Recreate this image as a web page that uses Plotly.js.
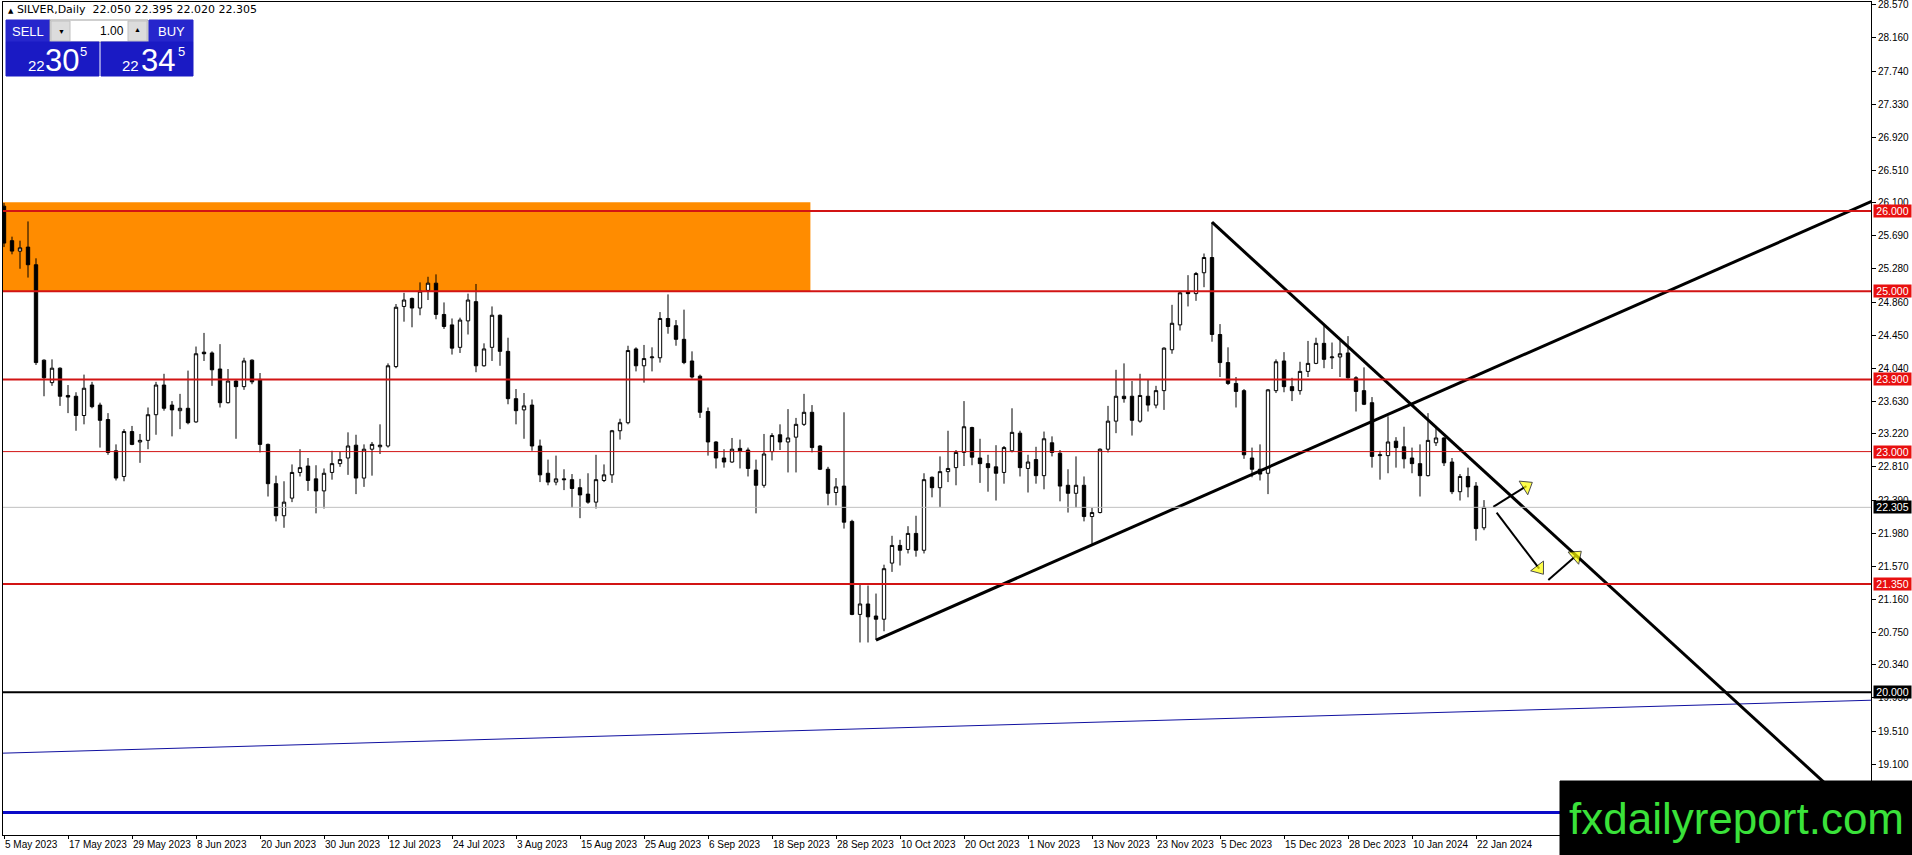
<!DOCTYPE html>
<html>
<head>
<meta charset="utf-8">
<script src="https://cdn.plot.ly/plotly-3.0.1.min.js"></script>
<style>
html, body { margin: 0; padding: 0; background: #fff; }
#chart { width: 1912px; height: 855px; }
</style>
</head>
<body>
<div id="chart"></div>
<script>
// bottom time scale, one label every 8 bars
var dateLabels = ['5 May 2023', '17 May 2023', '29 May 2023', '8 Jun 2023', '20 Jun 2023', '30 Jun 2023',
  '12 Jul 2023', '24 Jul 2023', '3 Aug 2023', '15 Aug 2023', '25 Aug 2023', '6 Sep 2023', '18 Sep 2023',
  '28 Sep 2023', '10 Oct 2023', '20 Oct 2023', '1 Nov 2023', '13 Nov 2023', '23 Nov 2023', '5 Dec 2023',
  '15 Dec 2023', '28 Dec 2023', '10 Jan 2024', '22 Jan 2024'];

// daily bars (bar 0 = 5 May 2023, last = 23 Jan 2024)
var openP = [26.06, 25.63, 25.50, 25.55, 25.33, 24.14, 23.86, 24.04, 23.70, 23.69,
  23.45, 23.83, 23.58, 23.40, 23.01, 22.69, 23.25, 23.12, 23.14, 23.46,
  23.83, 23.58, 23.51, 23.54, 23.37, 24.24, 24.23, 24.03, 23.61, 23.88,
  23.81, 24.14, 23.90, 23.09, 22.60, 22.20, 22.42, 22.74, 22.82, 22.66,
  22.51, 22.74, 22.85, 22.92, 23.08, 22.67, 23.03, 23.06, 23.07, 24.06,
  24.81, 24.91, 24.79, 25.01, 25.10, 24.71, 24.58, 24.30, 24.63, 24.87,
  24.07, 24.30, 24.70, 24.25, 23.66, 23.52, 23.58, 23.07, 22.73, 22.62,
  22.66, 22.65, 22.55, 22.47, 22.37, 22.64, 22.71, 23.26, 23.36, 24.28,
  24.07, 24.17, 24.17, 24.66, 24.57, 24.40, 24.13, 23.94, 23.50, 23.12,
  22.92, 22.87, 23.04, 23.02, 22.77, 22.58, 23.00, 23.21, 23.12, 23.18,
  23.34, 23.49, 23.07, 22.78, 22.49, 22.57, 22.13, 20.97, 21.10, 20.95,
  20.91, 21.61, 21.83, 21.78, 21.98, 21.77, 22.68, 22.55, 22.75, 22.80,
  22.99, 23.30, 22.92, 22.85, 22.81, 22.74, 23.01, 23.23, 22.79, 22.90,
  22.70, 23.11, 22.98, 22.58, 22.48, 22.58, 22.19, 22.24, 23.03, 23.38,
  23.69, 23.69, 23.38, 23.69, 23.58, 23.76, 24.27, 24.58, 24.99, 24.97,
  25.23, 25.42, 24.46, 24.11, 23.85, 23.76, 22.92, 22.78, 22.73, 23.76,
  24.13, 23.81, 23.76, 24.00, 24.10, 24.35, 24.17, 24.18, 24.23, 23.92,
  23.76, 23.61, 22.95, 22.95, 23.13, 23.06, 22.92, 22.85, 22.70, 23.11,
  23.17, 22.87, 22.50, 22.69, 22.57, 22.050];
var highP = [26.10, 25.68, 25.63, 25.87, 25.41, 24.15, 24.15, 24.05, 23.83, 23.74,
  23.96, 23.87, 23.61, 23.48, 23.09, 23.28, 23.32, 23.22, 23.55, 23.87,
  23.97, 23.63, 23.72, 24.01, 24.31, 24.48, 24.25, 24.34, 24.03, 23.89,
  24.17, 24.15, 23.98, 23.10, 22.70, 22.63, 22.84, 23.03, 22.92, 22.83,
  22.79, 23.01, 23.00, 23.24, 23.21, 23.09, 23.12, 23.34, 24.10, 24.84,
  24.98, 24.92, 25.11, 25.18, 25.21, 24.86, 24.66, 24.67, 24.97, 25.09,
  24.35, 24.81, 24.71, 24.42, 23.78, 23.73, 23.65, 23.15, 22.90, 22.95,
  22.78, 22.72, 22.66, 22.73, 22.96, 22.84, 23.27, 23.41, 24.32, 24.30,
  24.33, 24.30, 24.74, 24.96, 24.64, 24.77, 24.25, 23.96, 23.55, 23.13,
  23.03, 23.17, 23.15, 23.05, 22.90, 23.22, 23.23, 23.34, 23.53, 23.42,
  23.72, 23.58, 23.08, 22.81, 22.67, 23.49, 22.15, 21.34, 21.33, 21.23,
  21.59, 21.95, 21.90, 22.07, 22.20, 22.73, 22.69, 22.94, 23.26, 23.02,
  23.63, 23.31, 23.16, 22.96, 23.08, 23.07, 23.54, 23.26, 22.96, 23.06,
  23.25, 23.19, 23.02, 22.78, 22.94, 22.69, 22.30, 23.04, 23.57, 24.02,
  24.10, 23.88, 23.97, 23.90, 23.82, 24.30, 24.83, 25.00, 25.20, 25.24,
  25.47, 25.86, 24.59, 24.30, 23.93, 23.78, 23.05, 23.09, 23.78, 24.15,
  24.24, 23.92, 24.12, 24.38, 24.42, 24.57, 24.36, 24.38, 24.44, 23.94,
  24.05, 23.68, 23.01, 23.44, 23.18, 23.31, 23.05, 23.09, 23.48, 23.30,
  23.18, 22.92, 22.72, 22.80, 22.62, 22.395];
var lowP = [25.55, 25.46, 25.28, 25.17, 24.08, 23.69, 23.82, 23.57, 23.48, 23.26,
  23.34, 23.54, 23.05, 22.96, 22.64, 22.63, 23.08, 22.86, 23.03, 23.21,
  23.51, 23.19, 23.28, 23.34, 23.36, 24.13, 23.82, 23.55, 23.60, 23.16,
  23.77, 23.84, 22.99, 22.44, 22.13, 22.05, 22.37, 22.69, 22.51, 22.23,
  22.29, 22.65, 22.81, 22.71, 22.47, 22.56, 22.70, 22.97, 23.05, 24.04,
  24.62, 24.55, 24.70, 24.89, 24.65, 24.53, 24.21, 24.23, 24.46, 23.99,
  24.06, 24.13, 24.07, 23.59, 23.34, 23.16, 23.01, 22.62, 22.58, 22.58,
  22.52, 22.30, 22.17, 22.35, 22.29, 22.62, 22.61, 23.15, 23.34, 24.00,
  23.86, 24.00, 24.11, 24.47, 24.32, 24.09, 23.91, 23.42, 22.95, 22.79,
  22.80, 22.86, 22.79, 22.69, 22.23, 22.55, 22.89, 23.02, 22.74, 22.74,
  23.32, 22.99, 22.77, 22.33, 22.33, 22.04, 20.96, 20.62, 20.62, 20.65,
  20.76, 21.50, 21.58, 21.73, 21.69, 21.73, 22.43, 22.31, 22.62, 22.58,
  22.82, 22.83, 22.61, 22.50, 22.39, 22.60, 22.99, 22.69, 22.49, 22.60,
  22.53, 22.94, 22.38, 22.24, 22.30, 22.13, 21.85, 22.23, 22.99, 23.23,
  23.61, 23.20, 23.36, 23.50, 23.54, 23.52, 24.22, 24.51, 24.81, 24.88,
  25.05, 24.37, 23.93, 23.83, 23.55, 22.91, 22.68, 22.64, 22.47, 23.73,
  23.74, 23.63, 23.71, 23.93, 24.09, 24.04, 24.03, 23.93, 23.91, 23.50,
  23.58, 22.80, 22.65, 22.73, 22.80, 22.79, 22.73, 22.44, 22.69, 23.07,
  22.82, 22.47, 22.39, 22.43, 21.89, 22.020];
var closeP = [25.60, 25.50, 25.54, 25.33, 24.11, 23.92, 24.04, 23.69, 23.68, 23.45,
  23.79, 23.56, 23.39, 22.99, 22.67, 23.25, 23.09, 23.14, 23.46, 23.83,
  23.54, 23.52, 23.54, 23.36, 24.22, 24.22, 24.02, 23.61, 23.88, 23.81,
  24.13, 23.87, 23.09, 22.60, 22.20, 22.37, 22.74, 22.80, 22.64, 22.51,
  22.73, 22.85, 22.90, 23.07, 22.67, 23.03, 23.09, 23.08, 24.07, 24.80,
  24.89, 24.79, 25.00, 25.10, 24.71, 24.56, 24.29, 24.64, 24.89, 24.07,
  24.28, 24.70, 24.25, 23.66, 23.51, 23.57, 23.07, 22.71, 22.62, 22.66,
  22.65, 22.54, 22.46, 22.37, 22.65, 22.71, 23.26, 23.36, 24.26, 24.07,
  24.16, 24.18, 24.66, 24.56, 24.40, 24.11, 23.93, 23.49, 23.12, 22.92,
  22.87, 23.03, 23.01, 22.79, 22.58, 22.97, 23.20, 23.12, 23.17, 23.34,
  23.49, 23.05, 22.78, 22.48, 22.56, 22.12, 20.97, 21.10, 20.94, 20.91,
  21.54, 21.83, 21.77, 21.98, 21.77, 22.65, 22.55, 22.75, 22.79, 22.99,
  23.31, 22.93, 22.85, 22.80, 22.73, 23.05, 23.24, 22.80, 22.87, 22.70,
  23.16, 22.99, 22.57, 22.48, 22.58, 22.19, 22.24, 23.03, 23.38, 23.69,
  23.66, 23.39, 23.70, 23.58, 23.76, 24.29, 24.60, 24.98, 24.97, 25.22,
  25.42, 24.46, 24.11, 23.85, 23.75, 22.96, 22.78, 22.72, 23.77, 24.12,
  23.81, 23.76, 24.00, 24.10, 24.35, 24.15, 24.18, 24.22, 23.92, 23.75,
  23.59, 22.94, 22.96, 23.12, 23.05, 22.91, 22.85, 22.70, 23.14, 23.17,
  22.86, 22.50, 22.69, 22.56, 22.04, 22.305];

// right price scale
var priceTickText = ['28.570', '28.160', '27.740', '27.330', '26.920', '26.510', '26.100', '25.690',
  '25.280', '24.860', '24.450', '24.040', '23.630', '23.220', '22.810', '22.390', '21.980', '21.570',
  '21.160', '20.750', '20.340', '19.930', '19.510', '19.100'];

// drawn objects (bar index / price)
var redLevels = [26.000, 25.000, 23.900, 21.350];
var thinRedLevels = [23.000];
var bidPrice = 22.305;
var blackLevel = 20.000;
var blueLevel = 18.50;
var blueRayX = [-0.125, 233.375];
var blueRayY = [19.24, 19.90];
var zoneX = [-1, 100.8];
var zoneY = [25.00, 26.11];
var upTrendX = [109, 187.5];
var upTrendY = [20.65, 24.10];
var downTrendX = [151, 203.25];
var downTrendY = [25.86, 21.09];
var arrowsX = [[186.16, 190.3], [186.58, 191.9], [193.04, 196.5]];
var arrowsY = [[22.31, 22.57], [22.24, 21.54], [21.40, 21.70]];

// chart frame in screen pixels
var PL = 3, PR = 1871, PT = 2, PB = 835;
var XMIN = -0.125, XMAX = 233.375;
var YMIN = 18.2195, YMAX = 28.606;
function px(x) { return (x - PL) / (PR - PL); }
function py(y) { return (PB - y) / (PB - PT); }

function extendLine(xs, ys, xEnd) {
  var slope = (ys[1] - ys[0]) / (xs[1] - xs[0]);
  return { x: [xs[0], xEnd], y: [ys[0], ys[0] + slope * (xEnd - xs[0])] };
}

function makeChart() {
  var idx = [];
  for (var i = 0; i < closeP.length; i++) idx.push(i);
  var tickIdx = [];
  for (var k = 0; k < dateLabels.length; k++) tickIdx.push(k * 8);
  var tickVals = priceTickText.map(function (t) { return parseFloat(t); });

  var candles = {
    type: 'candlestick',
    x: idx, open: openP, high: highP, low: lowP, close: closeP,
    increasing: { line: { color: '#000', width: 1 }, fillcolor: '#fff' },
    decreasing: { line: { color: '#000', width: 1 }, fillcolor: '#000' },
    whiskerwidth: 0,
    hoverinfo: 'skip',
    showlegend: false
  };

  var up = extendLine(upTrendX, upTrendY, XMAX + 1);
  var down = extendLine(downTrendX, downTrendY, XMAX + 10);
  var upTrace = { x: up.x, y: up.y, mode: 'lines', line: { color: '#000', width: 3 }, hoverinfo: 'skip', showlegend: false };
  var downTrace = { x: down.x, y: down.y, mode: 'lines', line: { color: '#000', width: 3 }, hoverinfo: 'skip', showlegend: false };
  var blueRay = { x: blueRayX, y: blueRayY, mode: 'lines', line: { color: '#1010a0', width: 1 }, hoverinfo: 'skip', showlegend: false };

  var data = [candles, blueRay, upTrace, downTrace];
  for (var a = 0; a < arrowsX.length; a++) {
    data.push({
      x: arrowsX[a], y: arrowsY[a], mode: 'lines+markers',
      line: { color: '#000', width: 2 },
      marker: { symbol: 'triangle-up', size: [0, 14], color: '#ffff00', angleref: 'previous',
        line: { color: '#000', width: 1 } },
      hoverinfo: 'skip', showlegend: false, cliponaxis: false
    });
  }

  var shapes = [];
  // supply zone
  shapes.push({ type: 'rect', xref: 'x', yref: 'y', x0: zoneX[0], x1: zoneX[1], y0: zoneY[0], y1: zoneY[1],
    fillcolor: '#ff8c00', line: { width: 0 }, layer: 'below' });
  shapes.push({ type: 'line', xref: 'paper', yref: 'y', x0: 0, x1: 1, y0: bidPrice, y1: bidPrice,
    line: { color: '#c0c0c0', width: 1 } });
  redLevels.forEach(function (p) {
    shapes.push({ type: 'line', xref: 'paper', yref: 'y', x0: 0, x1: 1, y0: p, y1: p,
      line: { color: '#d21414', width: 2 } });
  });
  thinRedLevels.forEach(function (p) {
    shapes.push({ type: 'line', xref: 'paper', yref: 'y', x0: 0, x1: 1, y0: p, y1: p,
      line: { color: '#d21414', width: 1 } });
  });
  shapes.push({ type: 'line', xref: 'paper', yref: 'y', x0: 0, x1: 1, y0: blackLevel, y1: blackLevel,
    line: { color: '#000', width: 2 } });
  shapes.push({ type: 'line', xref: 'paper', yref: 'y', x0: 0, x1: 1, y0: blueLevel, y1: blueLevel,
    line: { color: '#0a0ac8', width: 3 } });

  // one-click trading panel
  var blue = '#1a1ac4';
  function box(x0, y0, x1, y1, fill, lineColor) {
    shapes.push({ type: 'rect', xref: 'paper', yref: 'paper', x0: px(x0), x1: px(x1), y0: py(y1), y1: py(y0),
      fillcolor: fill, line: { color: lineColor || fill, width: 1 }, layer: 'above' });
  }
  box(6, 20, 50, 42, '#2626cc');
  box(50, 20, 148, 42, '#ffffff', '#a0a0a0');
  box(51, 21, 70, 41, '#dcdcdc', '#c0c0c0');
  box(128, 21, 147, 41, '#dcdcdc', '#c0c0c0');
  box(149, 20, 193, 42, '#2626cc');
  box(6, 42, 99, 76, blue);
  box(101, 42, 193, 76, blue);
  // watermark banner
  box(1560, 781, 1912, 855, '#000000');

  var ann = [];
  function label(x, y, text, size, color, anchor, family) {
    ann.push({ xref: 'paper', yref: 'paper', x: px(x), y: py(y), text: text, showarrow: false,
      xanchor: anchor || 'center', yanchor: 'middle',
      font: { size: size, color: color, family: family || 'Liberation Sans, Arial, sans-serif' } });
  }
  label(6, 10, '<span style="font-size:7px">▲</span> SILVER,Daily  22.050 22.395 22.020 22.305', 11, '#000', 'left', 'DejaVu Sans, sans-serif');
  label(28, 31, 'SELL', 13, '#fff');
  label(171, 31, 'BUY', 13, '#fff');
  label(126, 31, '1.00', 12, '#000', 'right');
  label(61, 31, '▼', 7, '#000');
  label(137, 30, '▲', 7, '#000');
  label(36, 66, '22', 15, '#fff');
  label(62, 60, '30', 31, '#fff');
  label(83, 51, '5', 13, '#fff');
  label(130, 66, '22', 15, '#fff');
  label(158, 60, '34', 31, '#fff');
  label(181, 51, '5', 13, '#fff');
  label(1736, 818, 'fxdailyreport.com', 44, '#3ae23a');

  // price boxes on the right scale
  function priceBox(p, bg) {
    ann.push({ xref: 'paper', yref: 'y', x: 1, xshift: 2, y: p, xanchor: 'left', yanchor: 'middle',
      text: p.toFixed(3), showarrow: false, bgcolor: bg, borderpad: 0, width: 37, height: 12,
      font: { size: 10.5, color: '#fff', family: 'Liberation Sans, Arial, sans-serif' } });
  }
  redLevels.concat(thinRedLevels).forEach(function (p) { priceBox(p, '#e81010'); });
  priceBox(bidPrice, '#000');
  priceBox(blackLevel, '#000');

  var layout = {
    width: 1912, height: 855,
    margin: { l: PL, r: 1912 - PR, t: PT, b: 855 - PB, pad: 0 },
    paper_bgcolor: '#fff', plot_bgcolor: '#fff',
    showlegend: false, hovermode: false, boxgap: 0.4,
    font: { family: 'Liberation Sans, Arial, sans-serif', size: 10, color: '#000' },
    xaxis: {
      range: [XMIN, XMAX], rangeslider: { visible: false }, type: 'linear',
      tickvals: tickIdx, ticktext: dateLabels, ticklabelposition: 'outside right',
      tickangle: 0, ticklabeloverflow: 'allow', automargin: false,
      ticks: 'outside', ticklen: 3, tickcolor: '#000', tickfont: { size: 10, color: '#000' },
      showgrid: false, zeroline: false, showline: true, mirror: true, linecolor: '#000', linewidth: 1,
      fixedrange: true
    },
    yaxis: {
      range: [YMIN, YMAX], side: 'right', automargin: false, ticklabeloverflow: 'allow',
      tickvals: tickVals, ticktext: priceTickText,
      ticks: 'outside', ticklen: 4, tickcolor: '#000', tickfont: { size: 10, color: '#000' },
      showgrid: false, zeroline: false, showline: true, mirror: true, linecolor: '#000', linewidth: 1,
      fixedrange: true
    },
    shapes: shapes,
    annotations: ann
  };

  Plotly.newPlot('chart', data, layout, { displayModeBar: false, staticPlot: true });
}

makeChart();
</script>
</body>
</html>
